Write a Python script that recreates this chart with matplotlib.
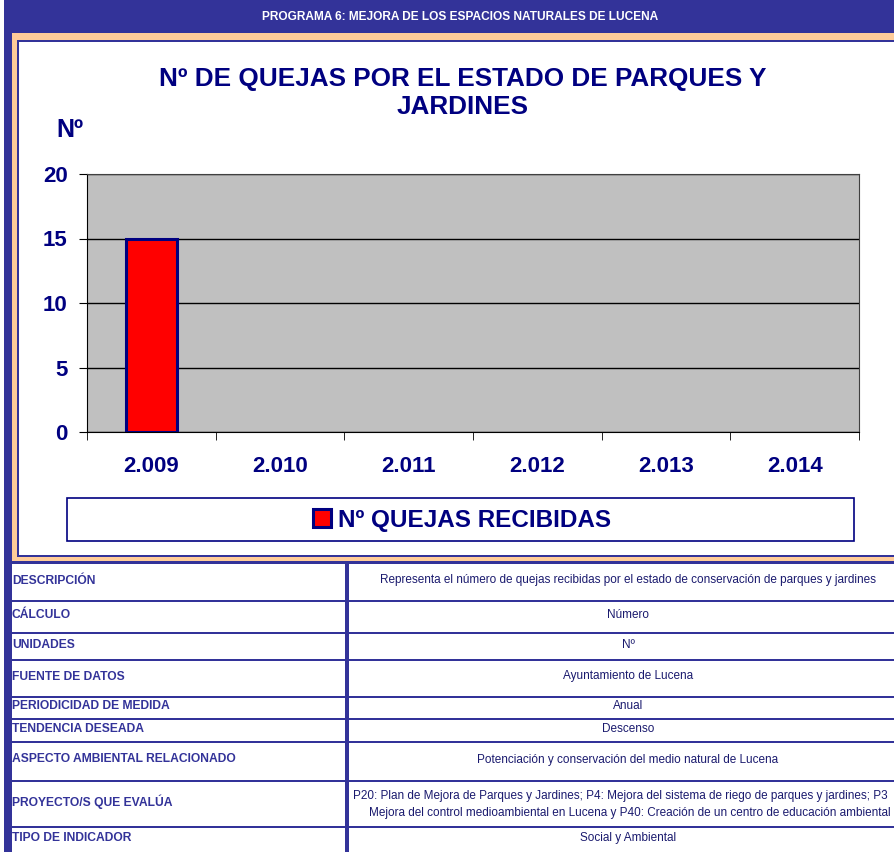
import matplotlib
matplotlib.use("Agg")
import matplotlib.pyplot as plt
from matplotlib.patches import Rectangle

plt.rcParams["font.family"] = ["Liberation Sans", "DejaVu Sans"]

# data
years = ["2.009", "2.010", "2.011", "2.012", "2.013", "2.014"]
quejas = [15, None, None, None, None, None]
y_ticks = [0, 5, 10, 15, 20]

header = "PROGRAMA 6: MEJORA DE LOS ESPACIOS NATURALES DE LUCENA"
title = "Nº DE QUEJAS POR EL ESTADO DE PARQUES Y\nJARDINES"
series_name = "Nº QUEJAS RECIBIDAS"

row_labels = [
    "DESCRIPCIÓN",
    "CÁLCULO",
    "UNIDADES",
    "FUENTE DE DATOS",
    "PERIODICIDAD DE MEDIDA",
    "TENDENCIA DESEADA",
    "ASPECTO AMBIENTAL RELACIONADO",
    "PROYECTO/S QUE EVALÚA",
    "TIPO DE INDICADOR",
]
row_values = [
    "Representa el número de quejas recibidas por el estado de conservación de parques y jardines",
    "Número",
    "Nº",
    "Ayuntamiento de Lucena",
    "Anual",
    "Descenso",
    "Potenciación y conservación del medio natural de Lucena",
    "P20: Plan de Mejora de Parques y Jardines; P4: Mejora del sistema de riego de parques y jardines; P3\n"
    "Mejora del control medioambiental en Lucena y P40: Creación de un centro de educación ambiental",
    "Social y Ambiental",
]

# layout (pixels)
W, H = 895, 852
row_edges = [564, 601, 633, 660, 697, 719, 742, 781, 827, 860]

BLUE = "#333399"
PEACH = "#FFCC99"
NAVY = "#000080"

fig = plt.figure(figsize=(W / 100, H / 100), dpi=100)

bg = fig.add_axes([0, 0, 1, 1])
bg.set_xlim(0, W)
bg.set_ylim(H, 0)
bg.axis("off")


def box(x0, y0, x1, y1, **kw):
    bg.add_patch(Rectangle((x0, y0), x1 - x0, y1 - y0, **kw))


# frame of the chart block
box(4, 0, W, 33, color=BLUE, lw=0)
box(4, 33, 12, H, color=BLUE, lw=0)
box(12, 33, W, 40, color=PEACH, lw=0)
box(12, 33, 17, 564, color=PEACH, lw=0)
box(17, 40, W, 42, color=BLUE, lw=0)
box(17, 40, 19, 557, color=BLUE, lw=0)
box(17, 555, W, 557, color=BLUE, lw=0)
box(12, 557, W, 561, color=PEACH, lw=0)
box(12, 561, W, 564, color=BLUE, lw=0)

bg.text(460, 17, header, color="white", fontsize=8.6, fontweight="bold",
        ha="center", va="center")

# table
box(345, 564, 349, H, color=BLUE, lw=0)
for y in row_edges[1:-1]:
    box(12, y - 1, W, y + 1, color=BLUE, lw=0)
for i, (lab, val) in enumerate(zip(row_labels, row_values)):
    yc = (row_edges[i] + row_edges[i + 1]) / 2
    if i == len(row_labels) - 1:
        yc = 840
    bg.text(12, yc - 2, lab, color=BLUE, fontsize=8.7, fontweight="bold",
            ha="left", va="center")
    if "\n" in val:
        l1, l2 = val.split("\n")
        bg.text(353, yc - 8, l1, color="#1a1a6e", fontsize=8.5, ha="left", va="center")
        bg.text(630, yc + 9, l2, color="#1a1a6e", fontsize=8.5, ha="center", va="center")
    else:
        bg.text(628, yc - 2, val, color="#1a1a6e", fontsize=8.5, ha="center", va="center")

# chart
fig.text(463 / W, 1 - 93 / H, title, color=NAVY, fontsize=18.8, fontweight="bold",
         ha="center", va="center", linespacing=1.2)

ax = fig.add_axes([87 / W, 1 - 432 / H, (859 - 87) / W, (432 - 174) / H])
ax.set_facecolor("#C0C0C0")

xs = [i for i, v in enumerate(quejas) if v is not None]
vals = [v for v in quejas if v is not None]
bars = ax.bar(xs, vals, width=0.4, color="red", edgecolor=NAVY, linewidth=2.2,
              label=series_name, zorder=3)

ax.set_xlim(-0.5, len(years) - 0.5)
ax.set_ylim(0, 20)
ax.set_yticks(y_ticks)
ax.set_xticks(range(len(years)))
ax.set_xticklabels(years)
ax.set_xticks([i - 0.5 for i in range(len(years) + 1)], minor=True)
ax.grid(axis="y", color="black", linewidth=1, zorder=1)
ax.set_axisbelow(True)

ax.tick_params(axis="x", which="major", length=0, pad=17, labelsize=16,
               labelcolor=NAVY)
ax.tick_params(axis="x", which="minor", length=6, color="black", direction="out")
ax.tick_params(axis="y", length=6, color="black", direction="out", pad=8,
               labelsize=16, labelcolor=NAVY)
for lab in ax.get_xticklabels() + ax.get_yticklabels():
    lab.set_fontweight("bold")
for side in ["left", "bottom"]:
    ax.spines[side].set_color("black")
for side in ["top", "right"]:
    ax.spines[side].set_color("#404040")

ax.set_ylabel("Nº", rotation=0, color=NAVY, fontsize=18, fontweight="bold",
              ha="center", va="center")
ax.yaxis.set_label_coords(-0.022, 1.17)

# legend
box(67, 498, 854, 541, facecolor="white", edgecolor=NAVY, lw=1.2)
leg = ax.legend(handles=[bars], loc="center", frameon=False,
                bbox_to_anchor=(462 / W, 1 - 520 / H), bbox_transform=fig.transFigure,
                handlelength=0.75, handleheight=0.75, handletextpad=0.3,
                prop={"weight": "bold", "size": 17.5})
for t in leg.get_texts():
    t.set_color(NAVY)

fig.savefig("out.png", dpi=100, facecolor="white")
